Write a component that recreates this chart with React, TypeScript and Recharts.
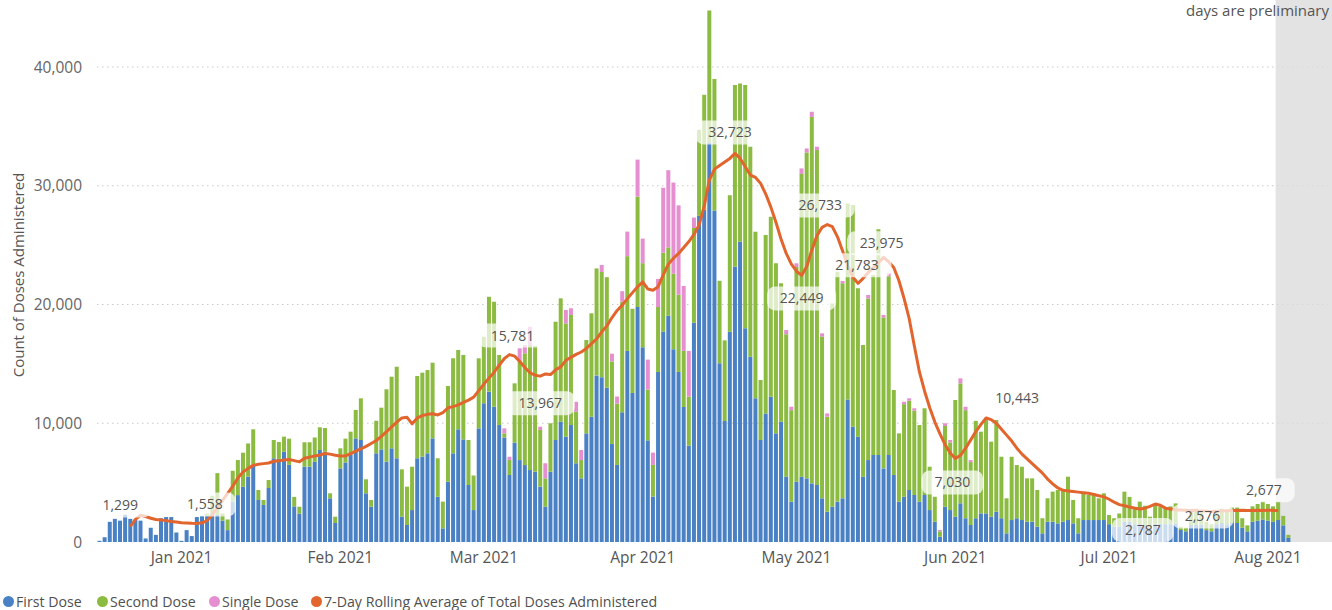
import React from 'react';
import {
  ComposedChart,
  Bar,
  Line,
  XAxis,
  YAxis,
  CartesianGrid,
  ReferenceArea,
} from 'recharts';

// ─── Data ─────────────────────────────────────────────────────────────────────

/** First bar is 16 Dec 2020; one entry per bar, read left to right. */
const START_DAY = Date.UTC(2020, 11, 16);
/** Axis keeps running (empty) to fill the grey "preliminary" panel. */
const AXIS_DAYS = 241;
const PRELIMINARY_FROM = '2021-08-03';

const firstDose = [
  // Dec
  100, 400, 1700, 1950, 1800, 2300, 1950, 1900, 1800, 300, 1200, 600, 2000, 2100, 2100, 800,
  // Jan
  100, 1000, 500, 2100, 2200, 2200, 2400, 2300, 1800, 1000, 3400, 3950, 4650, 5500, 6480, 3540,
  3120, 4550, 7050, 7000, 7600, 6500, 3000, 2400, 6340, 6340, 6750, 7750, 7600, 3680, 1600,
  // Feb
  6200, 6700, 7330, 8730, 8590, 4100, 2970, 7470, 7800, 6760, 7890, 7050, 2130, 1430, 2690, 7050,
  7190, 7470, 8730, 3810, 1150, 5080, 7470, 9490, 8640, 4800, 2690,
  // Mar
  9570, 11680, 12660, 11390, 9850, 8800, 5640, 8360, 6900, 6480, 6060, 5920, 4660, 2970, 5920, 8590,
  10130, 8870, 9850, 6630, 5360, 9150, 10550, 14030, 13880, 12990, 8260, 6490, 10920, 16090, 12550,
  // Apr
  19790, 16390, 8560, 3830, 14320, 17720, 19050, 16240, 14320, 11370, 8120, 18460, 27460, 28000,
  33670, 27910, 15060, 10190, 17700, 23180, 25290, 17990, 15600, 12100, 8590, 10830, 12240,
  9150, 10130,
  // May
  5500, 3400, 5080, 5500, 5360, 4940, 4800, 3680, 2550, 2970, 3400, 3680, 12000, 9710, 8870, 5500,
  6900, 7330, 7330, 6200, 7330, 5640, 3400, 3810, 4380, 3960, 3400, 3960, 2690, 1710, 450,
  // Jun
  2970, 2690, 2130, 3260, 2000, 1430, 2000, 2410, 2410, 2130, 2550, 2000, 730, 1850, 2000, 1850,
  1710, 1710, 1290, 730, 1710, 1710, 1570, 1710, 1850, 1570, 730, 1850, 1850, 1850,
  // Jul - Aug
  1850, 1850, 1500, 1300, 1300, 1700, 1700, 1500, 1500, 1400, 1200, 1500, 1500, 1500, 1500, 1570,
  1010, 900, 1430, 1430, 1450, 1000, 900, 1500, 1600, 1500, 1600, 1600, 1200, 900, 1700, 1800,
  1900, 1800, 1700, 1850, 1400, 350,
];

const secondDose = [
  // Dec
  0, 0, 0, 0, 0, 0, 0, 0, 0, 0, 0, 0, 0, 0, 0, 0,
  // Jan
  0, 0, 0, 0, 0, 200, 1500, 3500, 600, 900, 2600, 2950, 2870, 2800, 3010, 840,
  420, 670, 1540, 1420, 1270, 2200, 800, 570, 2060, 2060, 2050, 1910, 2000, 420, 530,
  // Feb
  1690, 2000, 1960, 2390, 3510, 1180, 570, 2740, 3510, 6100, 6030, 7710, 3990, 3230, 3650, 6930,
  7070, 7010, 6370, 3240, 2250, 8060, 8000, 6680, 7110, 3790, 2910,
  // Mar
  5900, 5610, 7990, 8840, 5900, 350, 1260, 5000, 8290, 9410, 10530, 10580, 4770, 2390, 4080, 9960,
  10390, 9540, 9270, 4340, 1540, 7860, 8710, 9010, 8860, 9310, 6950, 5170, 9310, 7980, 7090,
  // Apr
  9300, 7090, 4280, 2660, 5470, 6640, 5760, 6350, 6500, 4720, 4130, 7980, 7250, 9660,
  11080, 11080, 6940, 6790, 11500, 15300, 13330, 20490, 17690, 14030, 5050, 15020, 15150,
  14320, 11650,
  // May
  12000, 7700, 18070, 25500, 27440, 30860, 28200, 13620, 8000, 17120, 19360, 18100, 16500, 18670,
  12490, 11090, 13600, 15150, 19000, 12700, 15050, 7160, 5750, 7800, 7520, 7100, 6450, 7300, 3650,
  2100, 450,
  // Jun
  6800, 5700, 9830, 10100, 9100, 5300, 8200, 6880, 7860, 6320, 7720, 5180, 2950, 5330, 4480, 4490,
  3650, 3650, 3090, 1270, 1970, 2530, 2810, 2670, 3650, 1970, 1270, 2250, 2110, 2250,
  // Jul - Aug
  1830, 2250, 770, 700, 1100, 2540, 2100, 1470, 1900, 1650, 930, 1700, 1500, 1400, 1500, 1680,
  280, 300, 1270, 1370, 1150, 700, 600, 1200, 1200, 1200, 1300, 1300, 800, 500, 1300, 1400,
  1500, 1400, 1300, 1550, 800, 250,
];

const singleDose = [
  // Dec
  0, 0, 0, 0, 0, 0, 0, 0, 0, 0, 0, 0, 0, 0, 0, 0,
  // Jan
  0, 0, 0, 0, 0, 0, 0, 0, 0, 0, 0, 0, 0, 0, 0, 0, 0, 0, 0, 0, 0, 0, 0, 0, 0, 0, 0, 0, 0, 0, 0,
  // Feb
  0, 0, 0, 0, 0, 0, 0, 0, 0, 0, 0, 0, 0, 0, 0, 0, 0, 0, 0, 0, 0, 0, 0, 0, 0, 0, 0,
  // Mar
  0, 0, 0, 0, 0, 420, 280, 0, 1120, 700, 1540, 0, 280, 1270, 0, 0,
  0, 1130, 560, 840, 850, 0, 0, 0, 590, 0, 650, 590, 890, 2070, 0,
  // Apr
  3110, 2070, 2520, 1040, 2360, 5470, 6500, 7680, 7530, 5470, 3840, 880, 0, 0,
  0, 0, 0, 0, 0, 0, 0, 0, 0, 0, 0, 0, 0, 0, 0,
  // May
  350, 290, 320, 460, 340, 430, 290, 270, 280, 0, 0, 200, 0, 0, 0, 0,
  300, 0, 0, 220, 250, 0, 0, 200, 200, 200, 0, 0, 0, 0, 110,
  // Jun
  230, 200, 0, 420, 290, 170, 0, 0, 0, 0, 0, 0, 0, 0, 0, 0,
  0, 0, 0, 0, 0, 0, 0, 0, 0, 0, 0, 0, 0, 0,
  // Jul - Aug
  0, 0, 0, 0, 0, 0, 0, 0, 0, 0, 0, 0, 0, 0, 0, 0, 0, 0, 0, 0,
  0, 0, 0, 0, 0, 0, 0, 0, 0, 0, 0, 0, 0, 0, 0, 0, 0, 0,
];

/** 7-day rolling average, first value on 22 Dec 2020. */
const ROLLING_FIRST_INDEX = 6;
const rollingAverage = [
  // Dec 22-31
  1299, 1900, 2250, 2150, 2000, 1900, 1850, 1800, 1730, 1680,
  // Jan
  1630, 1600, 1570, 1558, 1620, 1800, 2300, 2900, 3500, 4100, 4700, 5400, 5900, 6200, 6450, 6550,
  6600, 6650, 6800, 6850, 6900, 6950, 6850, 6750, 7050, 7150, 7250, 7330, 7450, 7400, 7300,
  // Feb
  7250, 7250, 7450, 7650, 7850, 8050, 8300, 8550, 8900, 9300, 9700, 10100, 10450, 10500, 9950,
  10450, 10650, 10750, 10800, 10700, 10900, 11300, 11400, 11550, 11750, 11950, 12200, 12750,
  // Mar
  13300, 13800, 14300, 14900, 15450, 15781, 15650, 15200, 14700, 14250, 14050, 13967, 14150, 14100,
  14500, 14750, 15300, 15550, 15800, 16000, 16300, 16700, 17100, 17700, 18200, 18900, 19500, 19950,
  20500, 21000, 21500,
  // Apr
  21900, 21300, 21200, 21500, 22500, 23400, 23900, 24300, 24800, 25300, 25900, 26700, 28300, 30500,
  31400, 31700, 32000, 32300, 32723, 32300, 31600, 30900, 30700, 30200, 29300, 28200, 26900, 25500,
  24300, 23400,
  // May
  22800, 22449, 23200, 24600, 25800, 26500, 26733, 26550, 25700, 24500, 23300, 22300, 21783, 22200,
  22700, 23100, 23500, 23975, 23600, 23100, 22000, 20500, 18800, 16500, 14300, 12700, 11300, 10100,
  9100, 8200, 7500,
  // Jun
  7030, 7300, 7900, 8600, 9300, 9900, 10443, 10300, 10000, 9500, 9000, 8500, 7900, 7400, 7000, 6600,
  6200, 5800, 5300, 4900, 4550, 4350, 4300, 4250, 4200, 4150, 4100, 4000, 3900, 3800,
  // Jul
  3600, 3350, 3150, 3050, 2950, 2850, 2787, 2850, 3000, 3200, 3100, 2850, 2780, 2700, 2690, 2680,
  2660, 2640, 2620, 2600, 2576, 2600, 2620, 2640, 2650, 2660, 2680, 2650, 2660, 2670, 2660,
  // Aug 1-3
  2677, 2660, 2650,
];

const monthTicks = [
  '2021-01-01', '2021-02-01', '2021-03-01', '2021-04-01',
  '2021-05-01', '2021-06-01', '2021-07-01', '2021-08-01',
];
const MONTH_NAMES = ['Jan', 'Feb', 'Mar', 'Apr', 'May', 'Jun', 'Jul', 'Aug', 'Sep', 'Oct', 'Nov', 'Dec'];
const yTicks = [0, 10000, 20000, 30000, 40000];

// ─── Style ────────────────────────────────────────────────────────────────────

const BLUE = '#4a80c4';
const GREEN = '#8bbb41';
const PINK = '#e58fd0';
const ORANGE = '#e2652d';
const FONT = "'Segoe UI', 'Open Sans', sans-serif";

/** Where each rolling-average data label sits relative to its point [dx, dy]. */
const LABEL_OFFSETS: Record<string, [number, number]> = {
  '2020-12-22': [-10, -21],
  '2021-01-04': [8, -19],
  '2021-03-06': [3, -19],
  '2021-03-12': [0, 27],
  '2021-04-19': [-5, -21],
  '2021-05-02': [0, 23],
  '2021-05-07': [-7, -19],
  '2021-05-13': [-1, -18],
  '2021-05-18': [-2, -14],
  '2021-06-01': [-3, 24],
  '2021-06-07': [31, -20],
  '2021-07-07': [3, 21],
  '2021-07-21': [-9, 5],
  '2021-08-01': [-4, -20],
};

const LEGEND_ITEMS = [
  { name: 'First Dose', color: BLUE, left: 3 },
  { name: 'Second Dose', color: GREEN, left: 97 },
  { name: 'Single Dose', color: PINK, left: 209 },
  { name: '7-Day Rolling Average of Total Doses Administered', color: ORANGE, left: 311 },
];

// ─── Chart data ───────────────────────────────────────────────────────────────

const isoDay = (i: number) => new Date(START_DAY + i * 86400000).toISOString().slice(0, 10);

const chartData = Array.from({ length: AXIS_DAYS }, (_, i) => ({
  date: isoDay(i),
  first: firstDose[i] ?? null,
  second: secondDose[i] ?? null,
  single: singleDose[i] ?? null,
  avg: i >= ROLLING_FIRST_INDEX ? rollingAverage[i - ROLLING_FIRST_INDEX] ?? null : null,
}));

const lastDate = chartData[chartData.length - 1].date;

const formatMonth = (v: string) => `${MONTH_NAMES[Number(v.slice(5, 7)) - 1]} ${v.slice(0, 4)}`;

// ─── Pieces ───────────────────────────────────────────────────────────────────

function AvgLabel(props: any) {
  const { cx, cy, payload, index } = props;
  const offset = payload ? LABEL_OFFSETS[payload.date] : undefined;
  if (!offset || cx == null || cy == null || payload.avg == null) {
    return <g key={`avg-dot-${index}`} />;
  }
  const text = Number(payload.avg).toLocaleString('en-US');
  const w = text.length * 7.5 + 24;
  const x = cx + offset[0];
  const y = cy + offset[1];
  return (
    <g key={`avg-label-${index}`}>
      <rect x={x - w / 2} y={y - 12} width={w} height={24} rx={8} fill="#ffffff" fillOpacity={0.72} />
      <text x={x} y={y} dy="0.35em" textAnchor="middle" fontSize={14} fontFamily={FONT} fill="#555">
        {text}
      </text>
    </g>
  );
}

function ChartLegend() {
  return (
    <>
      {LEGEND_ITEMS.map((item) => (
        <div
          key={item.name}
          style={{
            position: 'absolute',
            left: item.left,
            top: 592,
            display: 'flex',
            alignItems: 'center',
            fontFamily: FONT,
            fontSize: 14.2,
            color: '#505050',
            whiteSpace: 'nowrap',
          }}
        >
          <span
            style={{
              display: 'inline-block',
              width: 11,
              height: 11,
              borderRadius: '50%',
              background: item.color,
              marginRight: 2,
            }}
          />
          {item.name}
        </div>
      ))}
    </>
  );
}

// ─── Component ────────────────────────────────────────────────────────────────

export default function App() {
  return (
    <div style={{ position: 'absolute', left: 0, top: 0, width: 1332, height: 610, background: '#fff', overflow: 'hidden' }}>
      <ComposedChart
        width={1332}
        height={610}
        data={chartData}
        margin={{ top: 0, right: 0, bottom: 38, left: 0 }}
        barCategoryGap={0.5}
      >
        <CartesianGrid
          vertical={false}
          horizontalValues={[10000, 20000, 30000, 40000]}
          stroke="#c9c9c9"
          strokeDasharray="1.5 3.5"
        />
        <XAxis
          dataKey="date"
          ticks={monthTicks}
          interval={0}
          tickFormatter={formatMonth}
          axisLine={false}
          tickLine={false}
          tickMargin={4}
          height={30}
          tick={{ fontSize: 15.5, fill: '#555', fontFamily: FONT }}
        />
        <YAxis
          domain={[0, 45642]}
          ticks={yTicks}
          width={97}
          axisLine={false}
          tickLine={false}
          tickMargin={9}
          tickFormatter={(v: number) => v.toLocaleString('en-US')}
          tick={{ fontSize: 15.5, fill: '#666', fontFamily: FONT }}
        />
        <Bar dataKey="first" stackId="doses" fill={BLUE} isAnimationActive={false} />
        <Bar dataKey="second" stackId="doses" fill={GREEN} isAnimationActive={false} />
        <Bar dataKey="single" stackId="doses" fill={PINK} isAnimationActive={false} />
        <Line
          type="linear"
          dataKey="avg"
          stroke={ORANGE}
          strokeWidth={3}
          strokeLinejoin="round"
          dot={AvgLabel}
          activeDot={false}
          isAnimationActive={false}
        />
        <ReferenceArea
          x1={PRELIMINARY_FROM}
          x2={lastDate}
          fill="#dcdcdc"
          fillOpacity={0.8}
          stroke="none"
          ifOverflow="visible"
        />
      </ComposedChart>

      <svg width={1332} height={610} style={{ position: 'absolute', left: 0, top: 0, pointerEvents: 'none' }}>
        <text
          x={24}
          y={275}
          transform="rotate(-90 24 275)"
          textAnchor="middle"
          fontSize={15}
          fontFamily={FONT}
          fill="#555"
        >
          Count of Doses Administered
        </text>
        <text x={1329} y={16} textAnchor="end" fontSize={15} fontFamily={FONT} fill="#555">
          days are preliminary
        </text>
      </svg>

      <ChartLegend />
    </div>
  );
}
